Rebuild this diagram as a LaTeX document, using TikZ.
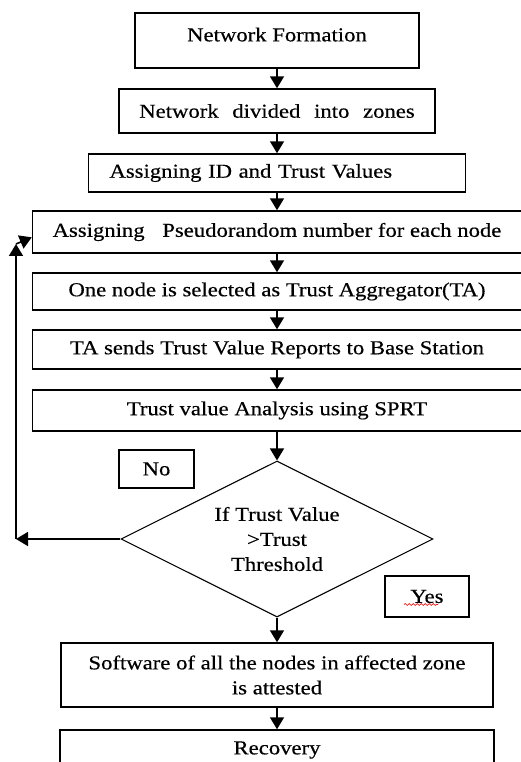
\documentclass[tikz,border=0pt]{standalone}
\usepackage{fontspec}
\setmainfont{Liberation Serif}[FakeStretch=1.15, FakeBold=0.4]
\usetikzlibrary{arrows.meta,shapes.geometric,decorations.pathmorphing}

\begin{document}
\begin{tikzpicture}[x=0.75pt, y=-0.75pt,
    font=\fontsize{14.8}{18.75}\selectfont,
    stage/.style={draw, line width=1.1pt, inner sep=0pt, align=center},
    decide/.style={diamond, draw, line width=0.8pt, inner sep=0pt, aspect=2, align=center},
    answer/.style={draw, line width=1.1pt, inner sep=0pt},
    flow/.style={line width=1.2pt, -{Triangle[width=10.5pt,length=9pt]}}]
    \useasboundingbox (0,0) rectangle (520,762);

    % Setting up the network
    \node[stage, minimum width=213pt, minimum height=41.25pt] (form) at (277,40.5)
        {\raisebox{9pt}{Network Formation}};
    \node[stage, minimum width=237pt, minimum height=33pt] (zones) at (277,111)
        {Network\hspace{6pt} divided\hspace{6pt} into\hspace{6pt} zones};
    \node[stage, minimum height=28.5pt, align=left, inner xsep=15.75pt, text width=251.25pt] (ids) at (277,173)
        {Assigning ID and Trust Values};

    % Trust aggregation
    \node[stage, minimum width=366.75pt, minimum height=31.5pt] (prng) at (277,232)
        {Assigning\hspace{9pt} Pseudorandom number for each node};
    \node[stage, minimum width=366.75pt, minimum height=27.75pt] (aggr) at (277,291.5)
        {One node is selected as Trust Aggregator(TA)};
    \node[stage, minimum width=366.75pt, minimum height=29.25pt] (report) at (277,349.5)
        {TA sends Trust Value Reports to Base Station};
    \node[stage, minimum width=366.75pt, minimum height=30.75pt] (sprt) at (277,410.5)
        {Trust value Analysis using SPRT};

    % Decision
    \node[decide, minimum width=234pt, minimum height=117pt] (check) at (277,539)
        {If Trust Value\\>Trust\\Threshold};
    \node[answer, minimum width=56.25pt, minimum height=28.5pt] (no) at (156.5,469) {No};
    \node[answer, minimum width=63pt, minimum height=30.75pt] (yes) at (427,596.5) {Yes};
    \draw[red, line width=0.5pt, decorate, decoration={snake, amplitude=0.7pt, segment length=3pt}]
        ([shift={(-23,8)}]yes.center) -- ++(34,0);

    % Attestation
    \node[stage, minimum width=324pt, minimum height=48pt] (attest) at (277,675)
        {Software of all the nodes in affected zone\\is attested};
    \node[stage, minimum width=325.5pt, minimum height=30pt] (recover) at (277,750) {Recovery};

    % Main flow
    \draw[flow] (form) -- (zones);
    \draw[flow] (zones) -- (ids);
    \draw[flow] (ids) -- (prng);
    \draw[flow] (prng) -- (aggr);
    \draw[flow] (aggr) -- (report);
    \draw[flow] (report) -- (sprt);
    \draw[flow] (sprt) -- (check);
    \draw[flow] (check) -- (attest);
    \draw[flow] (attest) -- (recover);

    % Loop back when the check fails
    \coordinate (loopbot) at (16,539);
    \coordinate (looptop) at (16,244);
    \draw[flow] (check.west) -- (loopbot);
    \draw[flow] (loopbot) -- (looptop);
    \draw[flow] (looptop) -- ([yshift=-4pt]prng.west);
\end{tikzpicture}
\end{document}
